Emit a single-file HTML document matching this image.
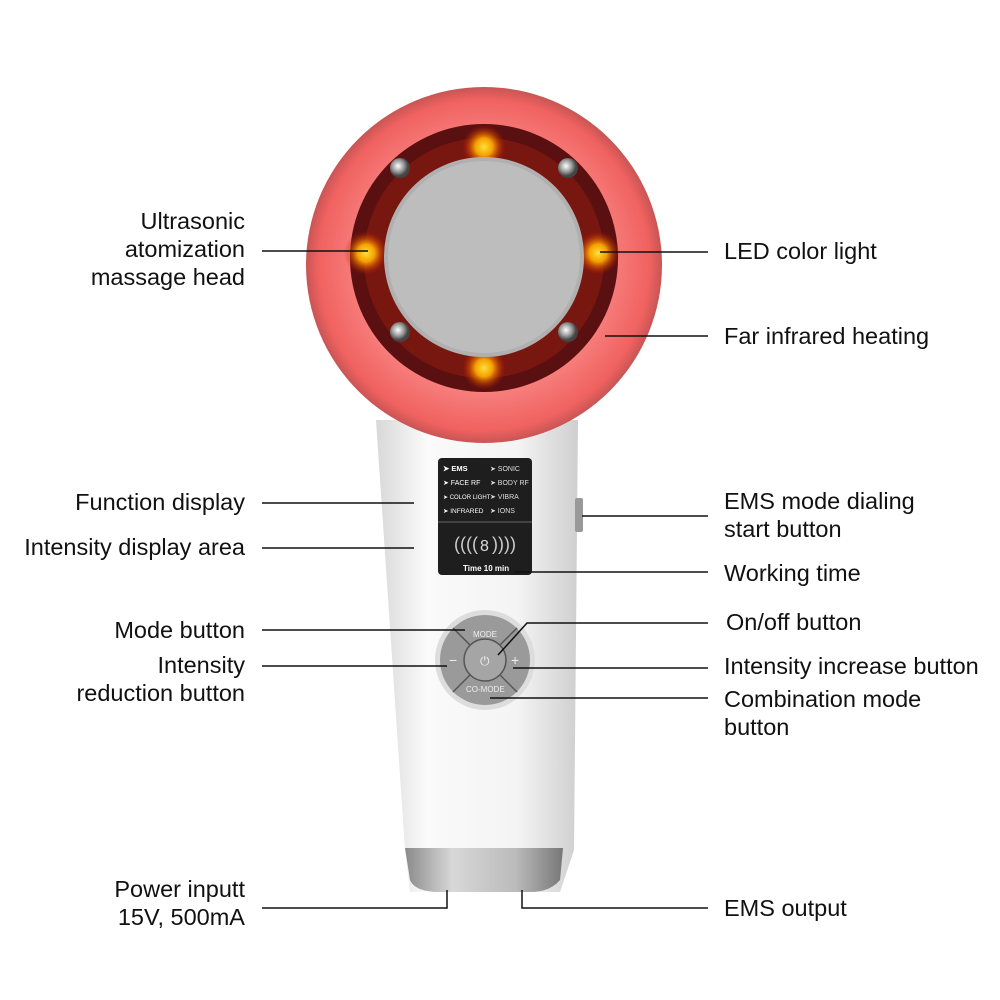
<!DOCTYPE html><html><head><style>body{margin:0;background:#fff}svg{display:block}.l text{font-family:"Liberation Sans",sans-serif;fill:#111}.d text{font-family:"Liberation Sans",sans-serif}</style></head><body>
<svg width="1000" height="1000" viewBox="0 0 1000 1000">
<defs>
<linearGradient id="h" x1="0" x2="1"><stop offset="0" stop-color="#d8d8d8"/><stop offset=".25" stop-color="#fafafa"/><stop offset=".7" stop-color="#f4f4f4"/><stop offset="1" stop-color="#cfcfcf"/></linearGradient>
<linearGradient id="m" x1="0" x2="1"><stop offset="0" stop-color="#8a8a8a"/><stop offset=".3" stop-color="#d8d8d8"/><stop offset=".7" stop-color="#bbb"/><stop offset="1" stop-color="#777"/></linearGradient>
<radialGradient id="r"><stop offset=".7" stop-color="#f7807e"/><stop offset=".93" stop-color="#f06260"/><stop offset="1" stop-color="#c85555"/></radialGradient>
<radialGradient id="y"><stop offset="0" stop-color="#ffe03a"/><stop offset=".4" stop-color="#f5a000"/><stop offset="1" stop-color="#c01000" stop-opacity="0"/></radialGradient>
<radialGradient id="s" cx=".4" cy=".4"><stop offset="0" stop-color="#fff"/><stop offset=".6" stop-color="#999"/><stop offset="1" stop-color="#444"/></radialGradient>
</defs>
<path d="M376 420 L578 420 L574 850 L560 892 L410 892 L405 850 Z" fill="url(#h)"/>
<path d="M405 848 L563 848 L560 880 Q550 892 530 892 L440 892 Q415 892 410 880 Z" fill="url(#m)"/>
<rect x="575" y="498" width="8" height="34" rx="2" fill="#999"/>
<circle cx="484" cy="265" r="178" fill="url(#r)"/>
<circle cx="484" cy="258" r="134" fill="#5a1010"/>
<circle cx="484" cy="258" r="120" fill="#8c1a10" opacity=".6"/>
<circle cx="484" cy="147" r="22" fill="url(#y)"/><circle cx="366" cy="253" r="22" fill="url(#y)"/><circle cx="598" cy="253" r="22" fill="url(#y)"/><circle cx="484" cy="368" r="22" fill="url(#y)"/>
<circle cx="484" cy="257" r="100" fill="#b0b0b0"/><circle cx="484" cy="257" r="96" fill="#bdbdbd"/>
<circle cx="400" cy="168" r="10" fill="url(#s)"/><circle cx="568" cy="168" r="10" fill="url(#s)"/><circle cx="400" cy="332" r="10" fill="url(#s)"/><circle cx="568" cy="332" r="10" fill="url(#s)"/>
<rect x="438" y="458" width="94" height="117" rx="4" fill="#1e1e1e"/>
<line x1="438" y1="522" x2="532" y2="522" stroke="#666"/>
<g class="d" font-size="7">
<text x="443" y="471" fill="#fff" font-weight="bold" font-size="7.5">➤ EMS</text><text x="490" y="471" fill="#ddd">➤ SONIC</text>
<text x="443" y="485" fill="#fff">➤ FACE RF</text><text x="490" y="485" fill="#ddd">➤ BODY RF</text>
<text x="443" y="499" fill="#fff" font-size="6">➤ COLOR LIGHT</text><text x="490" y="499" fill="#ddd">➤ VIBRA</text>
<text x="443" y="513" fill="#fff" font-size="6.5">➤ INFRARED</text><text x="490" y="513" fill="#ddd">➤ IONS</text>
<text x="454" y="550" font-size="18" fill="#ccc">((((</text><text x="480" y="551" font-size="16" fill="#ddd">8</text><text x="492" y="550" font-size="18" fill="#ccc">))))</text>
<text x="463" y="571" font-size="8" fill="#fff" font-weight="bold">Time 10 min</text>
</g>
<circle cx="485" cy="660" r="50" fill="#ddd"/><circle cx="485" cy="660" r="45" fill="#9a9a9a"/>
<line x1="453" y1="628" x2="517" y2="692" stroke="#555" stroke-width="1.5"/><line x1="517" y1="628" x2="453" y2="692" stroke="#555" stroke-width="1.5"/>
<circle cx="485" cy="660" r="21" fill="#a5a5a5" stroke="#555" stroke-width="1.5"/>
<g class="d"><text x="480" y="665" font-size="12" fill="#eee">⏻</text>
<text x="473" y="637" font-size="8" fill="#eee">MODE</text><text x="466" y="692" font-size="8" fill="#eee">CO-MODE</text>
<text x="449" y="665" font-size="14" fill="#eee">−</text><text x="511" y="665" font-size="14" fill="#eee">+</text></g>
<g stroke="#111" stroke-width="1.5" fill="none">
<path d="M262 251H368"/><path d="M600 252H708"/><path d="M605 336H708"/><path d="M262 503H414"/><path d="M262 548H414"/><path d="M582 516H708"/><path d="M515 572H708"/><path d="M262 630H465"/><path d="M262 666H447"/><path d="M498 655L527 623H708"/><path d="M513 668H708"/><path d="M490 698H708"/><path d="M262 908H447V890"/><path d="M522 890V908H708"/></g>
<g class="l" font-size="23.5">
<text x="245" y="229" text-anchor="end">Ultrasonic</text><text x="245" y="257" text-anchor="end">atomization</text><text x="245" y="285" text-anchor="end">massage head</text>
<text x="724" y="259">LED color light</text><text x="724" y="344">Far infrared heating</text>
<text x="245" y="510" text-anchor="end">Function display</text><text x="245" y="555" text-anchor="end">Intensity display area</text>
<text x="724" y="509">EMS mode dialing</text><text x="724" y="537">start button</text><text x="724" y="581">Working time</text>
<text x="245" y="638" text-anchor="end">Mode button</text><text x="245" y="673" text-anchor="end">Intensity</text><text x="245" y="701" text-anchor="end">reduction button</text>
<text x="726" y="630">On/off button</text><text x="724" y="674">Intensity increase button</text><text x="724" y="707">Combination mode</text><text x="724" y="735">button</text>
<text x="245" y="897" text-anchor="end">Power inputt</text><text x="245" y="925" text-anchor="end">15V, 500mA</text><text x="724" y="916">EMS output</text></g>
</svg></body></html>
